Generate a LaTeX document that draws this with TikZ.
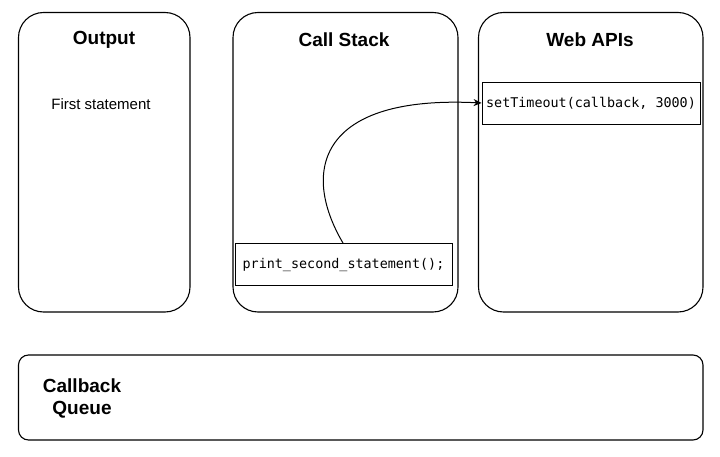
\documentclass[tikz,border=0pt]{standalone}
\usepackage{fontspec}
\setmainfont{Liberation Sans}
\setmonofont{DejaVu Sans Mono}
\usepackage{tikz}
\usetikzlibrary{arrows.meta}
\tikzset{column/.style={draw, line width=1.1pt, rounded corners=25pt, minimum width=#1, minimum height=299.5pt, inner sep=0pt},
 title/.style={font=\fontsize{19}{22}\selectfont\bfseries},
 codebox/.style={draw, line width=0.9pt, minimum width=#1, minimum height=42pt, inner sep=0pt, font=\fontsize{13.4}{16}\selectfont\ttfamily},
 }

\begin{document}
\begin{tikzpicture}[x=1pt, y=-1pt]
        \useasboundingbox (0, 0) rectangle (720, 457);
        \node[column=171.5pt] (output) at (104.25, 162.25) {};
        \node[column=225pt] (callstack) at (345.5, 162.25) {};
        \node[column=224.5pt] (webapis) at (590.75, 162.25) {};
        \node[draw, line width=1.1pt, rounded corners=10pt, minimum width=684.5pt, minimum height=85pt] (queue) at (360.75, 397.5) {};

        \node[title] (outputtitle) at (104, 40) {Output};
        \node[title] (callstacktitle) at (344, 40) {Call Stack};
        \node[title] (webapistitle) at (590, 40) {Web APIs};
        \node[title, align=center] (queuetitle) at (82, 398) {Callback\\Queue};

        \node[font=\fontsize{15}{18}\selectfont] (first) at (101, 104) {First statement};

        \node[codebox=218pt] (settimeout) at (591, 103) {setTimeout(callback, 3000)};
        \node[codebox=217pt] (printsecond) at (343.5, 264.5) {print\_second\_statement();};

        \draw[line width=1pt, -{Stealth[length=8pt, width=7pt]}] (printsecond.north -| 343, 0) .. controls (300, 170) and (320, 95) .. (settimeout.west);
    \end{tikzpicture}
\end{document}
